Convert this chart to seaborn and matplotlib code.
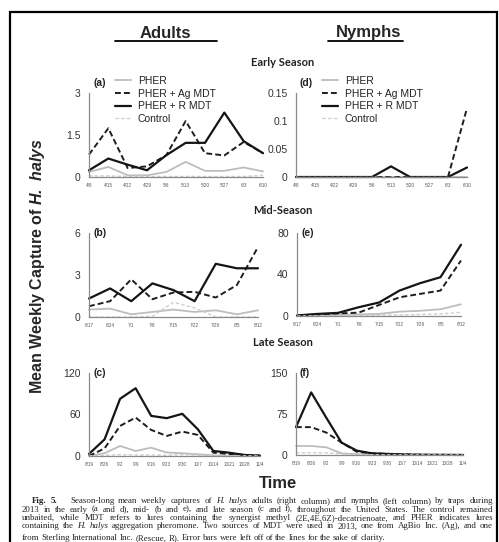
import numpy as np
import pandas as pd
import matplotlib
matplotlib.use("Agg")
import matplotlib.pyplot as plt
import seaborn as sns
from matplotlib.patches import Rectangle
from matplotlib.lines import Line2D

# Mean weekly captures of H. halys, 2013
early_dates = ["4/8", "4/15", "4/22", "4/29", "5/6", "5/13", "5/20", "5/27", "6/3", "6/10"]
mid_dates = ["6/17", "6/24", "7/1", "7/8", "7/15", "7/22", "7/29", "8/5", "8/12"]
late_dates = ["8/19", "8/26", "9/2", "9/9", "9/16", "9/23", "9/30", "10/7",
              "10/14", "10/21", "10/28", "11/4"]

treatments = ["PHER", "PHER + Ag MDT", "PHER + R MDT", "Control"]

# (a) adults, early season
adults_early_pher = [0.18, 0.36, 0.06, 0.06, 0.18, 0.54, 0.22, 0.22, 0.34, 0.2]
adults_early_ag = [0.8, 1.74, 0.32, 0.38, 0.78, 2.0, 0.85, 0.77, 1.25, 0.85]
adults_early_r = [0.24, 0.66, 0.44, 0.24, 0.78, 1.22, 1.22, 2.3, 1.28, 0.85]
adults_early_ctrl = [0.04, 0.04, 0.02, 0.02, 0.02, 0.02, 0.02, 0.02, 0.02, 0.06]

# (d) nymphs, early season
nymphs_early_pher = [0, 0, 0, 0, 0, 0, 0, 0, 0, 0]
nymphs_early_ag = [0, 0, 0, 0, 0, 0, 0, 0, 0, 0.123]
nymphs_early_r = [0, 0, 0, 0, 0, 0.019, 0, 0, 0, 0.017]
nymphs_early_ctrl = [0, 0, 0, 0, 0, 0, 0, 0, 0, 0]

# (b) adults, mid-season
adults_mid_pher = [0.53, 0.6, 0.19, 0.36, 0.53, 0.36, 0.48, 0.19, 0.48]
adults_mid_ag = [0.77, 1.13, 2.69, 1.27, 1.75, 1.8, 1.39, 2.28, 5.0]
adults_mid_r = [1.32, 2.04, 1.13, 2.4, 1.92, 1.13, 3.8, 3.48, 3.48]
adults_mid_ctrl = [0, 0, 0, 0.05, 1.05, 0.65, 0, 0, 0]

# (e) nymphs, mid-season
nymphs_mid_pher = [0.2, 0.5, 1, 1.5, 2, 4.2, 5, 6.5, 11.3]
nymphs_mid_ag = [0.5, 1.5, 2.5, 3.2, 10.6, 18, 21.3, 24.5, 53.5]
nymphs_mid_r = [0.5, 2, 3, 8.4, 13, 24.5, 31.6, 37.4, 68.7]
nymphs_mid_ctrl = [0, 0.2, 0.3, 0.5, 0.8, 1, 1.5, 2, 3.5]

# (c) adults, late season
adults_late_pher = [0.5, 4, 14.5, 7.3, 12, 5, 4, 2.5, 1, 0.5, 0.3, 0.2]
adults_late_ag = [0, 11, 43.5, 55.6, 37.7, 29, 35.3, 30.5, 4.8, 3, 1.5, 0.5]
adults_late_r = [3, 24, 82.7, 98, 58, 54.7, 61, 38.7, 7.3, 4.8, 1.5, 0.5]
adults_late_ctrl = [0.2, 1, 2, 1.5, 1.5, 1, 2, 1, 0.5, 0.3, 0.2, 0.1]

# (f) nymphs, late season
nymphs_late_pher = [16.5, 16.5, 14, 3, 1.5, 0.5, 0.3, 0.2, 0.1, 0.1, 0.1, 0]
nymphs_late_ag = [51, 51, 41, 22.7, 6, 3, 2, 1, 0.5, 0.3, 0.2, 0.1]
nymphs_late_r = [51, 114.5, 68, 22.7, 8, 3, 2, 1, 0.5, 0.3, 0.2, 0.1]
nymphs_late_ctrl = [4, 4, 4, 2, 1, 0.5, 0.3, 0.2, 0.1, 0.1, 0, 0]

W, H = 499, 542

sns.set_style("white")
plt.rcParams["font.family"] = ["Liberation Sans", "DejaVu Sans"]
plt.rcParams["mathtext.fontset"] = "custom"
plt.rcParams["mathtext.bfit"] = "Liberation Sans:bold:italic"
plt.rcParams["mathtext.rm"] = "Liberation Sans:bold"


def fx(px):
    return px / W


def fy(py):
    return 1 - py / H


def rect(left, right, top, bottom):
    return [fx(left), fy(bottom), (right - left) / W, (bottom - top) / H]


styles = {
    "PHER": dict(color="#bdbdbd", linestyle="-", lw=1.3),
    "PHER + Ag MDT": dict(color="#1e1e1e", linestyle=(0, (3, 1.6)), lw=1.4),
    "PHER + R MDT": dict(color="#151515", linestyle="-", lw=1.6),
    "Control": dict(color="#cfcfcf", linestyle=(0, (2.5, 1.6)), lw=1.0),
}

panels = [
    # label, dates, series, (left, right, top, bottom) px, ymax, ticks, ticklabels, legend
    ("(a)", early_dates, [adults_early_pher, adults_early_ag, adults_early_r, adults_early_ctrl],
     (89, 263, 93, 177), 3, [0, 1.5, 3], ["0", "1.5", "3"], True),
    ("(d)", early_dates, [nymphs_early_pher, nymphs_early_ag, nymphs_early_r, nymphs_early_ctrl],
     (296, 467, 93, 177), 0.15, [0, 0.05, 0.1, 0.15], ["0", "0.05", "0.1", "0.15"], True),
    ("(b)", mid_dates, [adults_mid_pher, adults_mid_ag, adults_mid_r, adults_mid_ctrl],
     (89, 258, 233, 317), 6, [0, 3, 6], ["0", "3", "6"], False),
    ("(e)", mid_dates, [nymphs_mid_pher, nymphs_mid_ag, nymphs_mid_r, nymphs_mid_ctrl],
     (297, 461, 233, 316), 80, [0, 40, 80], ["0", "40", "80"], False),
    ("(c)", late_dates, [adults_late_pher, adults_late_ag, adults_late_r, adults_late_ctrl],
     (89, 260, 373, 456), 120, [0, 60, 120], ["0", "60", "120"], False),
    ("(f)", late_dates, [nymphs_late_pher, nymphs_late_ag, nymphs_late_r, nymphs_late_ctrl],
     (296, 463, 373, 455), 150, [0, 75, 150], ["0", "75", "150"], False),
]

fig = plt.figure(figsize=(W / 100, H / 100), dpi=100)

for label, dates, series, (l, r, t, b), ymax, ticks, ticklabels, show_leg in panels:
    ax = fig.add_axes(rect(l, r, t, b))
    x = np.arange(len(dates))
    for name, vals in zip(treatments, series):
        sns.lineplot(x=x, y=vals, ax=ax, label=name, clip_on=False, **styles[name])
    ax.set_xlim(0, len(dates) - 1)
    ax.set_ylim(0, ymax)
    ax.set_xticks(x)
    ax.set_xticklabels(dates)
    ax.set_yticks(ticks)
    ax.set_yticklabels(ticklabels)
    ax.set_xlabel("")
    ax.set_ylabel("")
    ax.patch.set_alpha(0)
    for side in ["top", "right"]:
        ax.spines[side].set_visible(False)
    for side in ["left", "bottom"]:
        ax.spines[side].set_color("#8a8a8a")
        ax.spines[side].set_linewidth(0.9)
    ax.tick_params(axis="y", direction="out", length=3, width=0.8, color="#8a8a8a",
                   labelsize=7.5, labelcolor="#333333", pad=3)
    ax.tick_params(axis="x", direction="out", length=2, width=0.6, color="#8a8a8a",
                   labelsize=3.3, labelcolor="#555555", pad=2)
    ax.text(fx(l + 4), fy(t - 10 if show_leg else t), label, transform=fig.transFigure,
            fontsize=7.5, fontweight="bold", color="#222222", va="center", ha="left")
    if show_leg:
        hx = 26 / (r - l)
        ax.legend(loc="upper left", bbox_to_anchor=(hx, 1 + 17 / (b - t)), frameon=False,
                  fontsize=7.5, handlelength=1.5, handletextpad=0.7, labelspacing=0.25,
                  borderpad=0, borderaxespad=0, labelcolor="#222222")
    elif ax.get_legend():
        ax.get_legend().remove()

# Column headers
fig.text(fx(165), fy(33), "Adults", fontsize=12, fontweight="bold", ha="center", va="center")
fig.text(fx(369), fy(33), "Nymphs", fontsize=12, fontweight="bold", ha="center", va="center")
fig.add_artist(Line2D([fx(115), fx(217)], [fy(41), fy(41)], color="black", lw=1.3,
                      transform=fig.transFigure))
fig.add_artist(Line2D([fx(328), fx(403)], [fy(41), fy(41)], color="black", lw=1.3,
                      transform=fig.transFigure))

# Season titles
for txt, py in [("Early Season", 62), ("Mid-Season", 211), ("Late Season", 343)]:
    fig.text(fx(283), fy(py), txt, fontsize=8, fontweight="bold", family="Lato",
             ha="center", va="center", color="#222222")

fig.text(fx(38), fy(266), r"Mean Weekly Capture of $\mathbfit{H.\ halys}$", rotation=90,
         fontsize=11.5, fontweight="bold", ha="center", va="center")
fig.text(fx(278), fy(484), "Time", fontsize=12, fontweight="bold", ha="center", va="center")

# Frame around the figure
fig.add_artist(Rectangle((fx(10), -0.05), fx(497) - fx(10), fy(12) + 0.05, fill=False,
                         edgecolor="black", lw=1.6, transform=fig.transFigure, clip_on=False))

# Caption, justified word by word
caption = [
    "Fig. 5. Season-long mean weekly captures of H. halys adults (right column) and nymphs (left column) by traps during",
    "2013 in the early (a and d), mid- (b and e), and late season (c and f), throughout the United States. The control remained",
    "unbaited, while MDT refers to lures containing the synergist methyl (2E,4E,6Z)-decatrienoate, and PHER indicates lures",
    "containing the H. halys aggregation pheromone. Two sources of MDT were used in 2013, one from AgBio Inc. (Ag), and one",
    "from Sterling International Inc. (Rescue, R). Error bars were left off of the lines for the sake of clarity.",
]
italic_words = {"H.", "halys"}
bold_words = {"Fig.", "5."}
cap_base = [503, 511.5, 520, 528.5, 540.5]
renderer = fig.canvas.get_renderer()
for i, (line, py) in enumerate(zip(caption, cap_base)):
    x0 = 32 if i == 0 else 22
    x1 = 493
    words = line.split()
    extra = [9 if w == "5." else 0 for w in words]
    size = 6.4
    while True:
        items = [fig.text(0, fy(py), w, fontsize=size, family="Liberation Serif",
                          va="baseline", color="#222222",
                          style="italic" if w in italic_words else "normal",
                          weight="bold" if w in bold_words else "normal") for w in words]
        widths = [t.get_window_extent(renderer).width for t in items]
        gap = (x1 - x0 - sum(widths) - sum(extra)) / (len(items) - 1)
        if gap >= 1.9 or size < 5:
            break
        for t in items:
            t.remove()
        size -= 0.1
    if i == len(caption) - 1:
        gap = 2.0
    pos = x0
    for t, wd, ex in zip(items, widths, extra):
        t.set_x(fx(pos))
        pos += wd + gap + ex

fig.savefig("out.png", dpi=100)
